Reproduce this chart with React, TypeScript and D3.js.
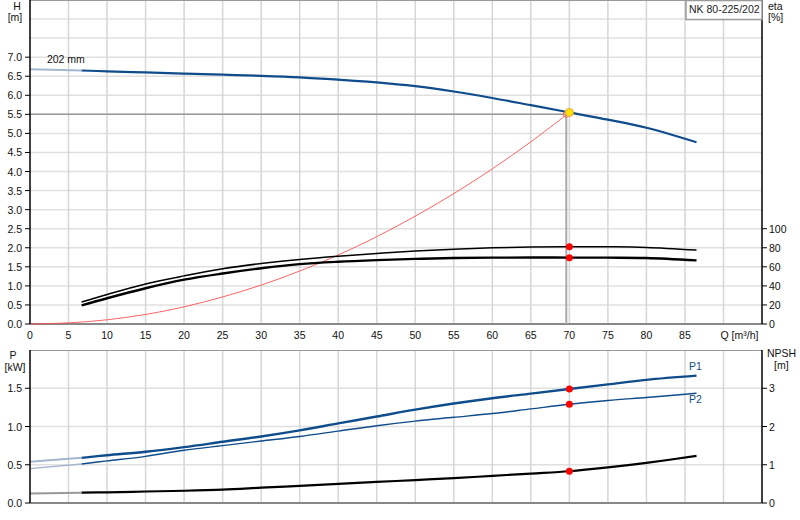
import * as d3 from 'd3'

// flow points (m³/h) shared by all curves
const flow = [0, 6.7, 10, 15, 20, 25, 30, 35, 40, 45, 50, 55, 60, 65, 70, 75, 80, 86.5]
const head = [6.68, 6.65, 6.63, 6.6, 6.57, 6.54, 6.51, 6.47, 6.41, 6.34, 6.24, 6.1, 5.93, 5.74, 5.55, 5.36, 5.15, 4.77]
const etaUpper = [NaN, 23, 31, 42, 50.5, 58, 63.5, 67.8, 71.2, 74, 76.5, 78.5, 80, 80.8, 81, 81, 80.4, 77.6]
const etaLower = [NaN, 19.5, 27, 37.5, 46.5, 53, 58.5, 62.8, 65.3, 67, 68.3, 69.2, 69.6, 69.8, 69.7, 69.6, 69.3, 66.8]
const powerP1 = [0.54, 0.59, 0.625, 0.67, 0.73, 0.8, 0.87, 0.95, 1.04, 1.13, 1.22, 1.3, 1.37, 1.43, 1.49, 1.55, 1.61, 1.665]
const powerP2 = [0.45, 0.51, 0.55, 0.61, 0.69, 0.75, 0.81, 0.87, 0.94, 1.01, 1.07, 1.12, 1.17, 1.23, 1.29, 1.34, 1.38, 1.434]
const npsh = [0.25, 0.27, 0.28, 0.3, 0.32, 0.35, 0.4, 0.45, 0.5, 0.55, 0.6, 0.65, 0.71, 0.77, 0.83, 0.93, 1.05, 1.23]

// system curve
const sysFlow = [0, 5, 10, 15, 20, 25, 30, 35, 40, 45, 50, 55, 60, 65, 69.7]
const sysHead = [0, 0.03, 0.11, 0.25, 0.45, 0.71, 1.02, 1.39, 1.81, 2.29, 2.83, 3.42, 4.07, 4.78, 5.5]

// duty / operating point
const duty = { q: 69.6, h: 5.5 }
const op = { q: 70, h: 5.55, etaU: 81, etaL: 69.5, p1: 1.49, p2: 1.29, npsh: 0.83 }

const qTicks = [0, 5, 10, 15, 20, 25, 30, 35, 40, 45, 50, 55, 60, 65, 70, 75, 80, 85]
const hTicks = [0, 0.5, 1, 1.5, 2, 2.5, 3, 3.5, 4, 4.5, 5, 5.5, 6, 6.5, 7]
const etaTicks = [0, 20, 40, 60, 80, 100]
const pTicks = [0, 0.5, 1, 1.5]
const npshTicks = [0, 1, 2, 3]

const BLUE = '#0f4c8c'
const LIGHTBLUE = '#a4b6cf'
const GRID = '#d6d6d6'
const FONT = '"Liberation Sans", Arial, sans-serif'

type Pt = [number, number]

export default function App() {
  const left = 30
  const right = 762
  const top1 = 0
  const bottom1 = 324
  const top2 = 350
  const bottom2 = 503

  const x = d3.scaleLinear([0, 95], [left, right])
  const yH = d3.scaleLinear([0, 8.5], [bottom1, top1])
  const yEta = d3.scaleLinear([0, 100], [bottom1, yH(2.5)])
  const yP = d3.scaleLinear([0, 2], [bottom2, top2])
  const yN = d3.scaleLinear([0, 4], [bottom2, top2])

  const pts = (ys: number[], yScale: d3.ScaleLinear<number, number>): Pt[] =>
    flow.map((q, i) => [x(q), yScale(ys[i])] as Pt).filter((p) => !isNaN(p[1]))

  const line = d3.line<Pt>().curve(d3.curveCatmullRom.alpha(0.5))
  const split = (p: Pt[]) => [p.slice(0, 2), p.slice(1)]

  const [hA, hB] = split(pts(head, yH))
  const [p1A, p1B] = split(pts(powerP1, yP))
  const [p2A, p2B] = split(pts(powerP2, yP))
  const [nA, nB] = split(pts(npsh, yN))
  const sys = sysFlow.map((q, i) => [x(q), yH(sysHead[i])] as Pt)

  const vGrid = d3.range(5, 95, 5)
  const hGrid1 = d3.range(0.5, 8.5, 0.5)
  const hGrid2 = [0.5, 1, 1.5]

  const txt = { fontFamily: FONT, fontSize: 10.5, fill: '#111' }

  return (
    <svg
      width={800}
      height={520}
      style={{ position: 'absolute', left: 0, top: 0, background: '#fff' }}
    >
      {/* ---------- top panel ---------- */}
      {hGrid1.map((v) => (
        <line key={'h' + v} x1={left} x2={right} y1={yH(v)} y2={yH(v)} stroke="#e0e0e0" strokeWidth={1.5} />
      ))}
      {vGrid.map((v) => (
        <line key={'v' + v} x1={x(v)} x2={x(v)} y1={top1} y2={bottom1} stroke={GRID} strokeWidth={1.5} />
      ))}
      <line x1={left} x2={right} y1={0.5} y2={0.5} stroke="#999" />
      <line x1={left} x2={right} y1={bottom1} y2={bottom1} stroke="#888" strokeWidth={2} />

      {/* duty lines */}
      <line x1={left} x2={x(duty.q)} y1={yH(duty.h)} y2={yH(duty.h)} stroke="#999" strokeWidth={1.5} />
      <line x1={x(duty.q)} x2={x(duty.q)} y1={yH(duty.h)} y2={bottom1} stroke="#aaa" strokeWidth={2} />

      <path d={line(sys) ?? ''} fill="none" stroke="#ff4a4a" strokeOpacity={0.85} strokeWidth={1} />
      <path d={line(hA) ?? ''} fill="none" stroke={LIGHTBLUE} strokeWidth={2} />
      <path d={line(hB) ?? ''} fill="none" stroke={BLUE} strokeWidth={2.2} />
      <path d={line(pts(etaUpper, yEta)) ?? ''} fill="none" stroke="#000" strokeWidth={1.5} />
      <path d={line(pts(etaLower, yEta)) ?? ''} fill="none" stroke="#000" strokeWidth={2.4} />

      <circle cx={x(duty.q)} cy={yH(duty.h)} r={3} fill="none" stroke="#ff6060" strokeWidth={1} />
      <circle cx={x(op.q)} cy={yH(op.h)} r={4} fill="#ffe400" stroke="#f2a040" strokeWidth={1} />
      <circle cx={x(op.q)} cy={yEta(op.etaU)} r={3.5} fill="#ff0000" />
      <circle cx={x(op.q)} cy={yEta(op.etaL)} r={3.5} fill="#ff0000" />

      <line x1={left} x2={left} y1={top1} y2={bottom1} stroke="#000" strokeWidth={1.5} />
      <line x1={right} x2={right} y1={top1} y2={bottom1} stroke="#000" strokeWidth={1.5} />

      {hTicks.map((v) => (
        <g key={'ht' + v}>
          <line x1={left - 5} x2={left} y1={yH(v)} y2={yH(v)} stroke="#000" />
          <text {...txt} x={left - 8} y={yH(v) + 4} textAnchor="end">
            {v.toFixed(1)}
          </text>
        </g>
      ))}
      {etaTicks.map((v) => (
        <g key={'et' + v}>
          <line x1={right} x2={right + 5} y1={yEta(v)} y2={yEta(v)} stroke="#000" />
          <text {...txt} x={right + 7} y={yEta(v) + 4}>
            {v}
          </text>
        </g>
      ))}
      {qTicks.map((v) => (
        <text key={'qt' + v} {...txt} x={x(v)} y={bottom1 + 15} textAnchor="middle">
          {v}
        </text>
      ))}
      <text {...txt} x={x(90) - 3} y={bottom1 + 15}>
        Q [m³/h]
      </text>

      <text {...txt} x={17} y={10} textAnchor="middle">H</text>
      <text {...txt} x={15} y={21} textAnchor="middle">[m]</text>
      <text {...txt} x={768} y={10}>eta</text>
      <text {...txt} x={768} y={21}>[%]</text>
      <text {...txt} x={x(2.2)} y={yH(6.68) - 6}>202 mm</text>

      <rect x={686} y={0.5} width={right - 686} height={19} fill="#fff" stroke="#999" strokeWidth={1.5} />
      <text {...txt} x={689} y={13} fill="#222">NK 80-225/202</text>

      {/* ---------- bottom panel ---------- */}
      {hGrid2.map((v) => (
        <line key={'h2' + v} x1={left} x2={right} y1={yP(v)} y2={yP(v)} stroke="#e0e0e0" strokeWidth={1.5} />
      ))}
      {vGrid.map((v) => (
        <line key={'v2' + v} x1={x(v)} x2={x(v)} y1={top2} y2={bottom2} stroke={GRID} strokeWidth={1.5} />
      ))}
      <line x1={left} x2={right} y1={top2 + 0.5} y2={top2 + 0.5} stroke="#999" />
      <line x1={left} x2={right} y1={bottom2} y2={bottom2} stroke="#888" strokeWidth={2} />

      <path d={line(p1A) ?? ''} fill="none" stroke={LIGHTBLUE} strokeWidth={2} />
      <path d={line(p1B) ?? ''} fill="none" stroke={BLUE} strokeWidth={2.4} />
      <path d={line(p2A) ?? ''} fill="none" stroke={LIGHTBLUE} strokeWidth={1.4} />
      <path d={line(p2B) ?? ''} fill="none" stroke={BLUE} strokeWidth={1.4} />
      <path d={line(nA) ?? ''} fill="none" stroke="#999" strokeWidth={2} />
      <path d={line(nB) ?? ''} fill="none" stroke="#000" strokeWidth={2.2} />

      <circle cx={x(op.q)} cy={yP(op.p1)} r={3.5} fill="#ff0000" />
      <circle cx={x(op.q)} cy={yP(op.p2)} r={3.5} fill="#ff0000" />
      <circle cx={x(op.q)} cy={yN(op.npsh)} r={3.5} fill="#ff0000" />

      <text {...txt} x={689} y={370} fill={BLUE}>P1</text>
      <text {...txt} x={689} y={403} fill={BLUE}>P2</text>

      <line x1={left} x2={left} y1={top2} y2={bottom2} stroke="#000" strokeWidth={1.5} />
      <line x1={right} x2={right} y1={top2} y2={bottom2} stroke="#000" strokeWidth={1.5} />

      {pTicks.map((v) => (
        <g key={'pt' + v}>
          <line x1={left - 5} x2={left} y1={yP(v)} y2={yP(v)} stroke="#000" />
          <text {...txt} x={left - 8} y={yP(v) + 4} textAnchor="end">
            {v.toFixed(1)}
          </text>
        </g>
      ))}
      {npshTicks.map((v) => (
        <g key={'nt' + v}>
          <line x1={right} x2={right + 5} y1={yN(v)} y2={yN(v)} stroke="#000" />
          <text {...txt} x={right + 7} y={yN(v) + 4}>
            {v}
          </text>
        </g>
      ))}

      <text {...txt} x={13} y={359} textAnchor="middle">P</text>
      <text {...txt} x={15} y={371} textAnchor="middle">[kW]</text>
      <text {...txt} x={767} y={357}>NPSH</text>
      <text {...txt} x={774} y={369}>[m]</text>
    </svg>
  )
}
